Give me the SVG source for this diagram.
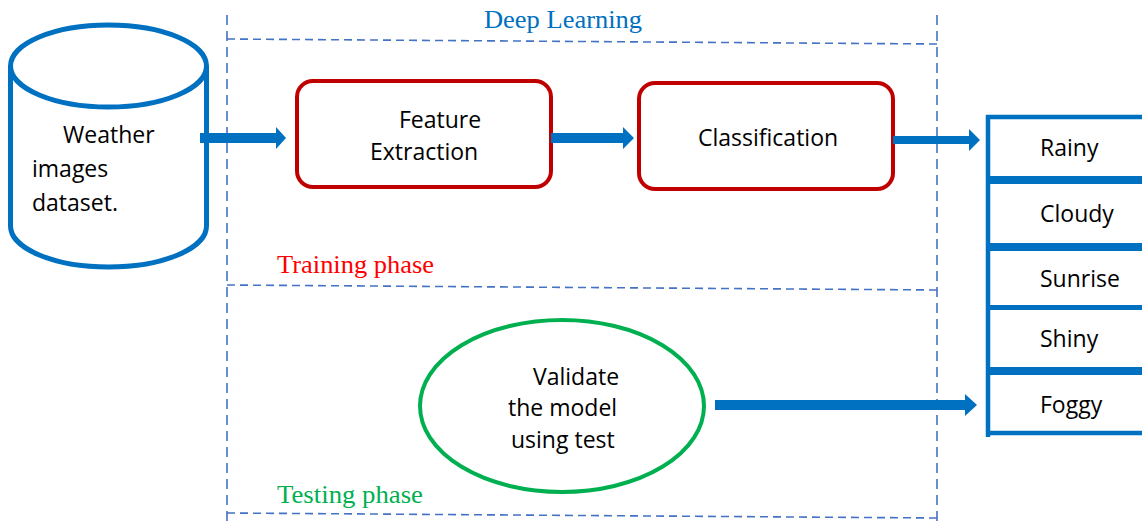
<svg xmlns="http://www.w3.org/2000/svg" width="1142" height="523" viewBox="0 0 1142 523">
<style>
.dash{stroke:#4472C4;stroke-width:1.6;fill:none;stroke-dasharray:8 5}
.vdash{stroke:#4472C4;stroke-width:1.6;fill:none;stroke-dasharray:10 6}
.sans{font-family:"Open Sans","Liberation Sans",sans-serif;font-size:23px;fill:#000}
.serif{font-family:"Liberation Serif","Times New Roman",serif;font-size:26px}
.box{fill:#fff;stroke:#C00000;stroke-width:4}
.blue{stroke:#0070C0;fill:none}
.arrow{fill:#0070C0}
</style>
<rect width="1142" height="523" fill="#fff"/>
<g id="phases">
<line class="vdash" x1="227" y1="15" x2="227" y2="523"/>
<line class="vdash" x1="937" y1="15" x2="937" y2="523"/>
<line class="dash" x1="227" y1="39" x2="937" y2="44"/>
<line class="dash" x1="227" y1="285" x2="937" y2="290"/>
<line class="dash" x1="227" y1="513" x2="937" y2="518"/>
<text class="serif" x="484" y="28" fill="#0070C0" textLength="158" lengthAdjust="spacingAndGlyphs">Deep Learning</text>
<text class="serif" x="277" y="273" fill="#FF0000" textLength="157" lengthAdjust="spacingAndGlyphs">Training phase</text>
<text class="serif" x="277" y="503" fill="#00B050" textLength="146" lengthAdjust="spacingAndGlyphs">Testing phase</text>
</g>
<g id="dataset">
<path class="blue" stroke-width="5" fill="#fff" d="M10.5,66 V226 A98,41 0 0 0 206.5,226 V66"/>
<ellipse class="blue" stroke-width="5" cx="108.5" cy="66" rx="98" ry="41"/>
<text class="sans" x="63" y="143">Weather</text>
<text class="sans" x="32" y="177">images</text>
<text class="sans" x="32" y="211">dataset.</text>
</g>
<g id="feature-extraction">
<rect class="box" x="297" y="81" width="254" height="106" rx="16"/>
<text class="sans" x="399" y="128">Feature</text>
<text class="sans" x="370" y="160">Extraction</text>
</g>
<g id="classification">
<rect class="box" x="639" y="83" width="254" height="106" rx="16"/>
<text class="sans" x="698" y="146">Classification</text>
</g>
<g id="validate">
<ellipse cx="562" cy="406" rx="142" ry="86" fill="#fff" stroke="#00B050" stroke-width="4"/>
<text class="sans" x="533" y="385">Validate</text>
<text class="sans" x="508" y="416">the model</text>
<text class="sans" x="511" y="448">using test</text>
</g>
<g id="classes">
<g class="blue">
<line x1="988" y1="115" x2="988" y2="437" stroke-width="4.5"/>
<line x1="986" y1="117" x2="1142" y2="117" stroke-width="4.5"/>
<line x1="986" y1="180" x2="1142" y2="180" stroke-width="8"/>
<line x1="986" y1="247" x2="1142" y2="247" stroke-width="8"/>
<line x1="986" y1="307.5" x2="1142" y2="307.5" stroke-width="5"/>
<line x1="986" y1="371" x2="1142" y2="371" stroke-width="8"/>
<line x1="986" y1="433" x2="1142" y2="433" stroke-width="4.5"/>
</g>
<text class="sans" x="1040" y="156">Rainy</text>
<text class="sans" x="1040" y="222">Cloudy</text>
<text class="sans" x="1040" y="287">Sunrise</text>
<text class="sans" x="1040" y="347">Shiny</text>
<text class="sans" x="1040" y="413">Foggy</text>
</g>
<g id="connectors">
<polygon class="arrow" points="200,133 276,133 276,127 286,138 276,149 276,143 200,143"/>
<polygon class="arrow" points="551,133 623,133 623,127 634,138 623,149 623,143 551,143"/>
<polygon class="arrow" points="893,136 969,136 969,129 980,140 969,151 969,144 893,144"/>
<polygon class="arrow" points="715,400 965,400 965,394 977,405 965,416 965,410 715,410"/>
</g>
</svg>
